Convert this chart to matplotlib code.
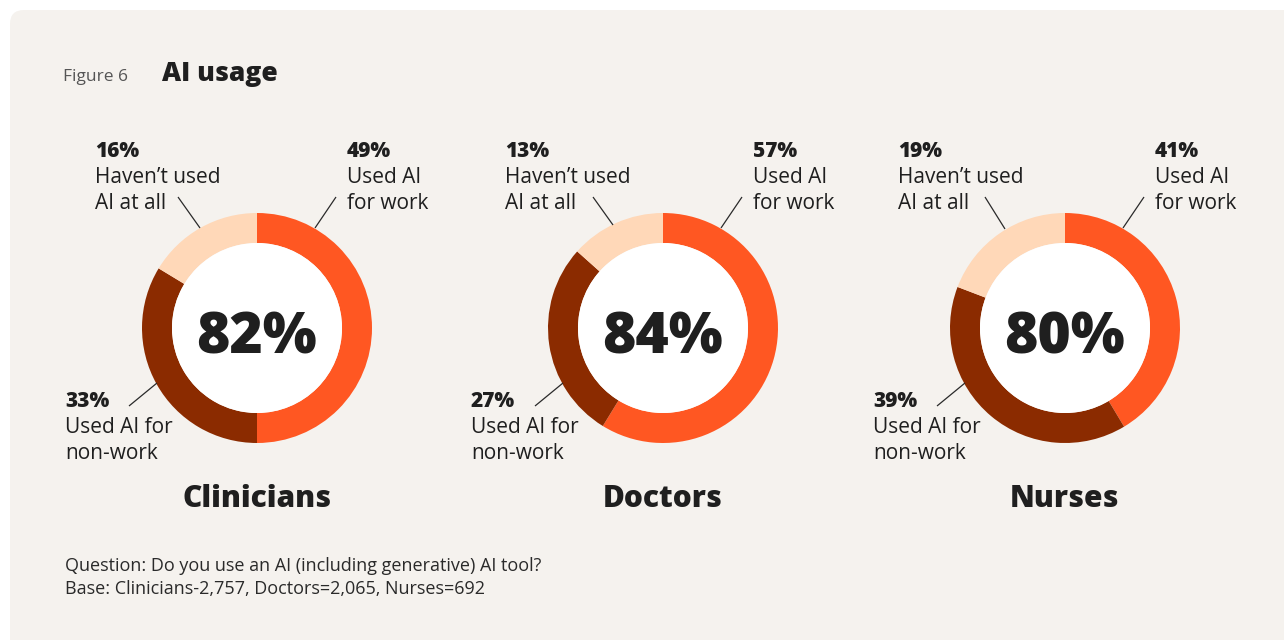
import matplotlib
matplotlib.use("Agg")
import matplotlib.pyplot as plt
from matplotlib.patches import FancyBboxPatch, Circle

# --- data -------------------------------------------------------------
groups = ["Clinicians", "Doctors", "Nurses"]
used_for_work = [49, 57, 41]
used_for_nonwork = [33, 27, 39]
not_used = [16, 13, 19]
any_use = [82, 84, 80]

seg_labels = ["Used AI\nfor work", "Used AI for\nnon-work", "Haven\u2019t used\nAI at all"]
title = "AI usage"
fig_tag = "Figure 6"
footnote = ["Question: Do you use an AI (including generative) AI tool?",
            "Base: Clinicians-2,757, Doctors=2,065, Nurses=692"]

# --- style / layout ---------------------------------------------------
W, H = 1284, 640
BG = "#f5f2ee"
C_WORK, C_NONWORK, C_NONE = "#ff5722", "#8b2b00", "#ffd8b8"
INK = "#1f1f1f"
FONT = "Open Sans"
HEAVY = 800

centers_x = [257, 663, 1065]
center_y = 328
R_OUT, R_IN = 115, 85
left_label_x = [95, 505, 898]
right_label_x = [347, 753, 1155]
low_label_x = [65, 471, 873]
none_leader = [((-79, -131), (-57, -100)), ((-70, -131), (-50, -103)), ((-80, -131), (-60, -99))]
work_leader = ((79, -131), (58, -100))
nonwork_leader = ((-128, 78), (-100, 55))

plt.rcParams["font.family"] = [FONT, "DejaVu Sans"]

fig = plt.figure(figsize=(W / 100, H / 100), dpi=100)
fig.patch.set_facecolor("white")
ax = fig.add_axes([0, 0, 1, 1])


def Y(py):
    return H - py


ax.add_patch(FancyBboxPatch((10, Y(660)), W + 20, 650, boxstyle="round,pad=0,rounding_size=14",
                            facecolor=BG, edgecolor="none", zorder=0))

ax.text(63, Y(81), fig_tag, fontsize=12.5, color="#555555", va="baseline", ha="left")
ax.text(162, Y(81), title, fontsize=19, fontweight=HEAVY, color=INK, va="baseline", ha="left")


def label(x, base, pct, text):
    ax.text(x, Y(base), f"{pct}%", fontsize=15, fontweight=HEAVY, color=INK, va="baseline")
    for i, line in enumerate(text.split("\n")):
        ax.text(x, Y(base + 26 * (i + 1)), line, fontsize=15, color=INK, va="baseline")


for i, g in enumerate(groups):
    cx = centers_x[i]
    vals = [used_for_work[i], used_for_nonwork[i], not_used[i]]
    ax.pie(vals, colors=[C_WORK, C_NONWORK, C_NONE], startangle=90, counterclock=False,
           center=(cx, Y(center_y)), radius=R_OUT,
           wedgeprops=dict(width=R_OUT - R_IN, linewidth=0), frame=True)
    ax.add_patch(Circle((cx, Y(center_y)), R_IN, facecolor="white", edgecolor="none", zorder=3))
    ax.text(cx, Y(353), f"{any_use[i]}%", fontsize=41, fontweight=HEAVY, color=INK,
            ha="center", va="baseline", zorder=4)
    ax.text(cx, Y(507), g, fontsize=21.5, fontweight=HEAVY, color=INK, ha="center", va="baseline")

    label(left_label_x[i], 157, not_used[i], seg_labels[2])
    label(right_label_x[i], 157, used_for_work[i], seg_labels[0])
    label(low_label_x[i], 407, used_for_nonwork[i], seg_labels[1])

    for (a, b) in (none_leader[i], work_leader, nonwork_leader):
        ax.plot([cx + a[0], cx + b[0]], [Y(center_y + a[1]), Y(center_y + b[1])],
                color="#2a2a2a", lw=0.9, solid_capstyle="butt", zorder=2)

for k, line in enumerate(footnote):
    ax.text(65, Y(571 + 23 * k), line, fontsize=13, color="#2a2a2a", va="baseline")

ax.set_xlim(0, W)
ax.set_ylim(0, H)
ax.set_aspect("auto")
ax.axis("off")

fig.savefig("out.png", dpi=100, facecolor="white")
